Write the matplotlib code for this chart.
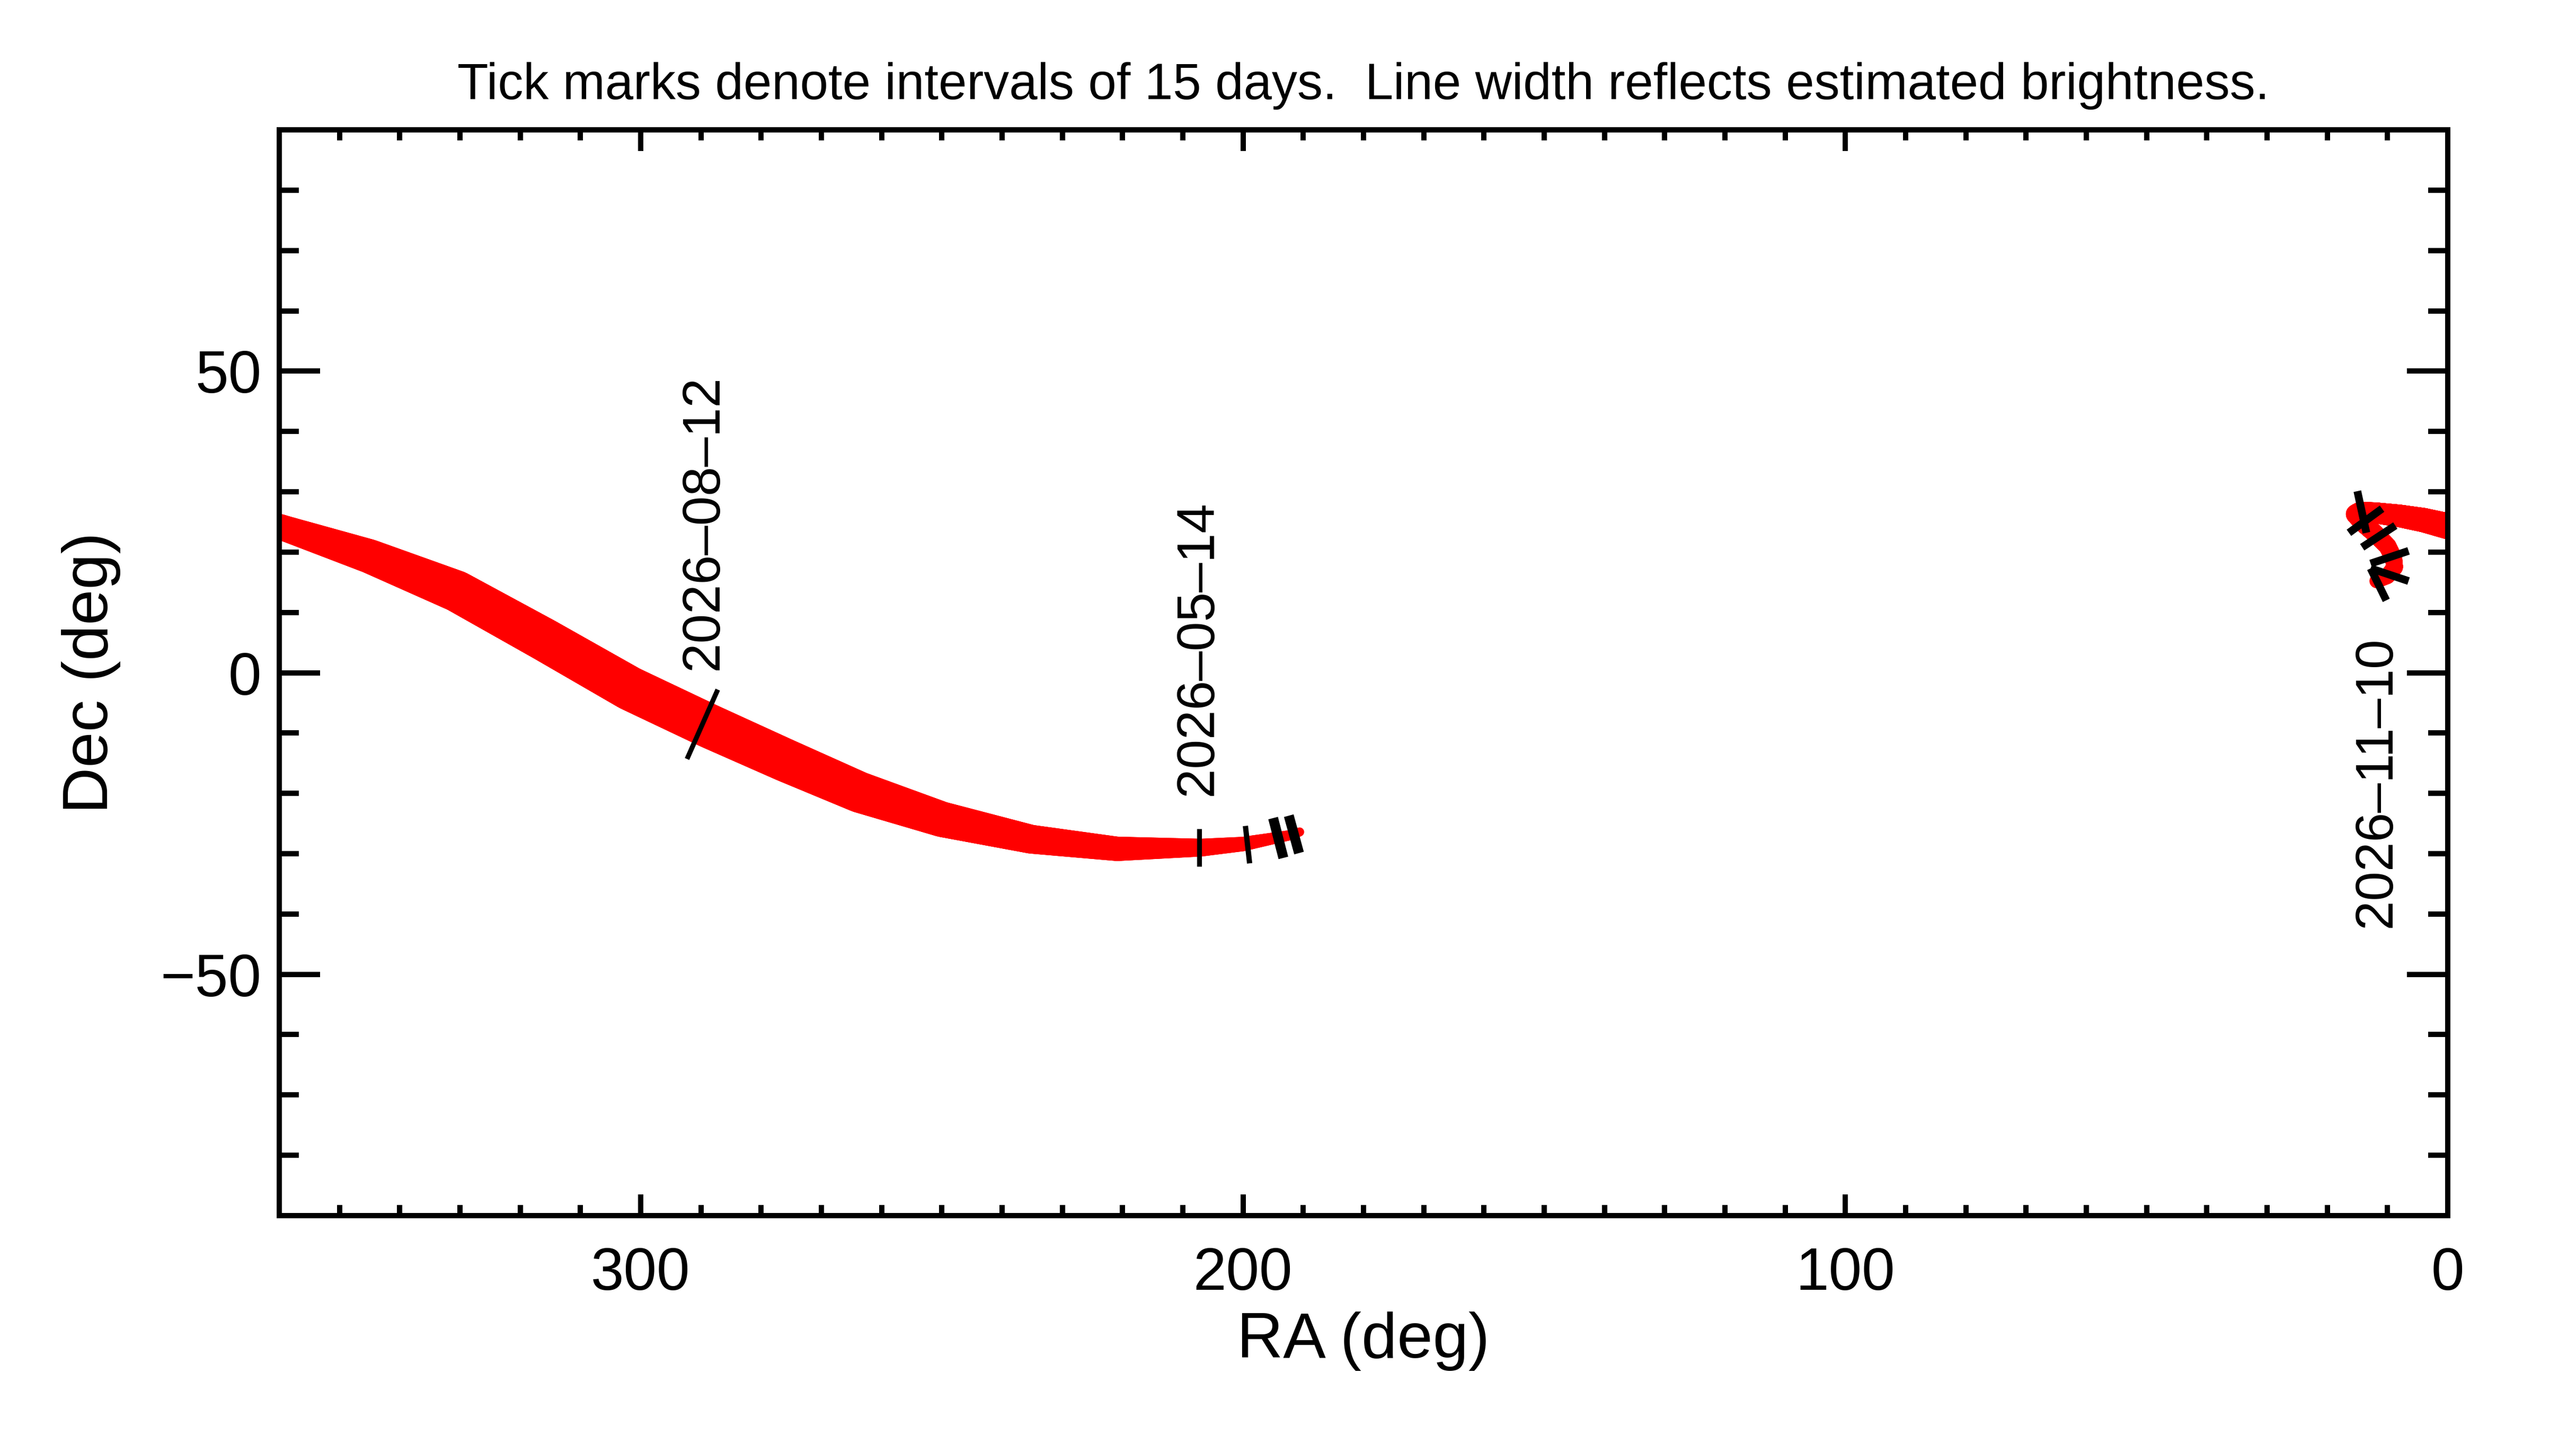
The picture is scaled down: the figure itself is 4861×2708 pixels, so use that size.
import numpy as np
import matplotlib
matplotlib.use("Agg")
import matplotlib.pyplot as plt
from matplotlib.collections import LineCollection

plt.rcParams['font.family'] = ['Liberation Sans', 'DejaVu Sans']

# Comet path, wrapping at RA 0/360 (RA deg, Dec deg, line width pt)
path1_ra = [360, 359, 345, 330.5, 316, 301.8, 288.5, 276, 263.7, 250, 235.2, 220.9, 207, 200, 192, 190.6]
path1_dec = [24.2, 23.9, 19.3, 13.5, 5.5, -2.6, -8.9, -14.5, -19.8, -24.3, -27.6, -29.2, -29.0, -28.4, -26.9, -26.4]
path1_w = [11.7, 11.7, 15.5, 18.7, 19.5, 20.0, 20.0, 19.5, 18.5, 16.0, 13.0, 11.0, 8.0, 6.5, 4.5, 4.0]

path2_ra = [0, 4, 8, 12, 14.5, 15.3, 14, 12, 10, 9, 8.8, 10, 11.8]
path2_dec = [24.3, 25.3, 26.0, 26.5, 26.7, 26.3, 24.8, 23.0, 21.0, 19.0, 17.5, 16.0, 15.2]
path2_w = [11.8, 11.0, 10.2, 9.5, 9.0, 8.8, 8.5, 8.2, 8.0, 7.8, 7.5, 7.0, 6.5]

# 15-day tick marks (segment endpoints, RA/Dec) and widths
tick_ra0 = [207.3, 199.6, 195.0, 192.4, 292.3, 15.0, 16.4, 14.2, 12.8, 12.8, 12.8]
tick_dec0 = [-25.9, -25.4, -24.1, -23.7, -14.3, 30.1, 23.2, 20.8, 18.1, 17.3, 17.3]
tick_ra1 = [207.3, 198.9, 193.3, 190.7, 287.2, 13.5, 10.9, 8.7, 6.5, 6.5, 10.2]
tick_dec1 = [-32.1, -31.6, -30.7, -29.9, -2.8, 23.2, 27.2, 24.4, 20.2, 15.2, 12.0]
tick_w = [2.2, 2.4, 4.5, 4.5, 2.2, 3.5, 3.5, 3.5, 3.5, 3.5, 3.5]

# Date labels
label_text = ['2026\u201308\u201312', '2026\u201305\u201314', '2026\u201311\u201310']
label_ra = [289.5, 207.4, 11.8]
label_dec = [0.5, -20.3, 6.0]
label_va = ['bottom', 'bottom', 'top']

fig = plt.figure(figsize=(4861 / 300, 2708 / 300), dpi=300)
ax = fig.add_axes([0.1084, 0.1529, 0.9502 - 0.1084, 0.9095 - 0.1529])


def draw_path(ra, dec, w):
    ra = np.asarray(ra, float); dec = np.asarray(dec, float); w = np.asarray(w, float)
    d = np.r_[0, np.cumsum(np.hypot(np.diff(ra), np.diff(dec)))]
    s = np.linspace(0, d[-1], 600)
    x = np.interp(s, d, ra); y = np.interp(s, d, dec); lw = np.interp(s, d, w)
    pts = np.column_stack([x, y]).reshape(-1, 1, 2)
    segs = np.concatenate([pts[:-1], pts[1:]], axis=1)
    lc = LineCollection(segs, linewidths=lw[:-1], colors='#ff0000', capstyle='round', zorder=2)
    ax.add_collection(lc)


draw_path(path1_ra, path1_dec, path1_w)
draw_path(path2_ra, path2_dec, path2_w)

for r0, d0, r1, d1, w in zip(tick_ra0, tick_dec0, tick_ra1, tick_dec1, tick_w):
    ax.plot([r0, r1], [d0, d1], color='black', lw=w, solid_capstyle='butt', zorder=3)

for t, r, d, va in zip(label_text, label_ra, label_dec, label_va):
    ax.text(r, d, t, rotation=90, ha='center', va=va, fontsize=24, zorder=4)

ax.set_xlim(360, 0)
ax.set_ylim(-90, 90)
ax.set_xticks([300, 200, 100, 0])
ax.set_xticks(np.arange(0, 361, 10), minor=True)
ax.set_yticks([-50, 0, 50])
ax.set_yticks(np.arange(-90, 91, 10), minor=True)
ax.tick_params(which='both', direction='in', top=True, right=True, width=2.4, labelsize=27)
ax.tick_params(axis='x', which='major', length=9.6, pad=14)
ax.tick_params(axis='x', which='minor', length=4.8)
ax.tick_params(axis='y', which='major', length=18.5, pad=8)
ax.tick_params(axis='y', which='minor', length=8.9)
for sp in ax.spines.values():
    sp.set_linewidth(2.4)

ax.set_xlabel('RA (deg)', fontsize=29, labelpad=4)
ax.set_ylabel('Dec (deg)', fontsize=29, labelpad=18)
ax.set_title('Tick marks denote intervals of 15 days.  Line width reflects estimated brightness.',
             fontsize=23, pad=14)

fig.savefig('out.png', dpi=300)
